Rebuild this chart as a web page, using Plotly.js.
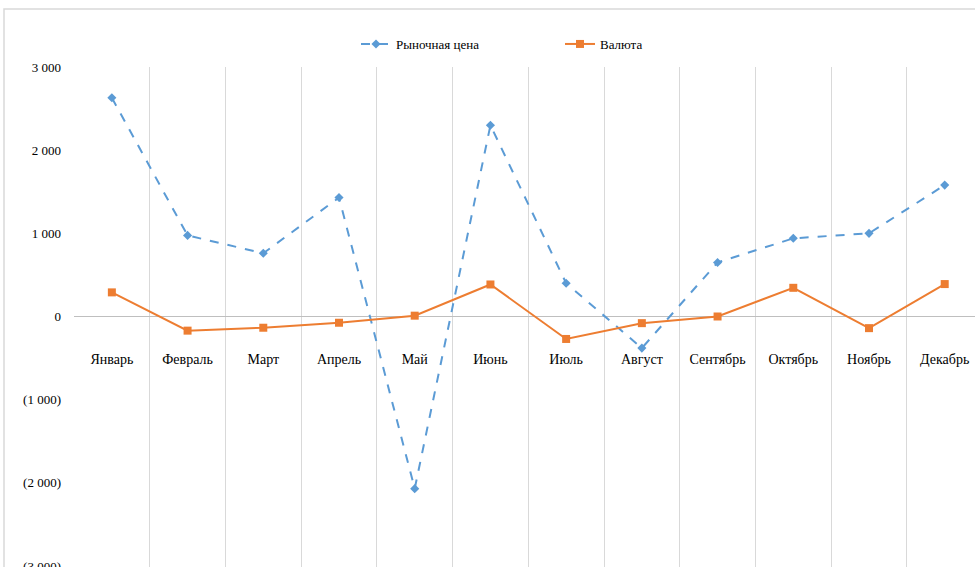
<!DOCTYPE html>
<html><head><meta charset="utf-8">
<script src="https://cdn.plot.ly/plotly-3.0.1.min.js"></script>
<style>html,body{margin:0;padding:0;background:#fff}#chart{width:975px;height:567px}</style>
</head><body><div id="chart"></div>
<script>
const months = ["Январь","Февраль","Март","Апрель","Май","Июнь","Июль","Август","Сентябрь","Октябрь","Ноябрь","Декабрь"];
const marketPrice = [2630, 975, 760, 1430, -2070, 2300, 400, -380, 650, 940, 1000, 1580];
const currency = [290, -170, -135, -75, 10, 385, -270, -80, 0, 345, -140, 390];
const yTickVals = [3000, 2000, 1000, 0, -1000, -2000, -3000];
const yTickText = ["3 000", "2 000", "1 000", "0", "(1 000)", "(2 000)", "(3 000)"];

const font = "Liberation Serif";
const traces = [
  {x: months, y: marketPrice, name: "Рыночная цена", type: "scatter", mode: "lines+markers",
   line: {color: "#5b9bd5", width: 2, dash: "dash"},
   marker: {symbol: "diamond", size: 7, color: "#5b9bd5"}, legend: "legend"},
  {x: months, y: currency, name: "Валюта", type: "scatter", mode: "lines+markers",
   line: {color: "#ed7d31", width: 2},
   marker: {symbol: "square", size: 8, color: "#ed7d31"}, legend: "legend2"}
];
const plotL = 74, plotW = 901, plotT = 67, plotH = 500;
const px = v => (v - plotL) / plotW;
const py = v => 1 - (v - plotT) / plotH;
const legFont = {family: font, size: 13, color: "#000"};
const layout = {
  width: 975, height: 567,
  margin: {l: plotL, r: 0, t: plotT, b: 0},
  paper_bgcolor: "#fff", plot_bgcolor: "#fff",
  font: {family: font, size: 12, color: "#000"},
  showlegend: true,
  legend: {orientation: "h", x: px(356), xanchor: "left", y: py(44), yanchor: "middle",
           font: legFont, bgcolor: "rgba(0,0,0,0)"},
  legend2: {orientation: "h", x: px(560), xanchor: "left", y: py(44), yanchor: "middle",
           font: legFont, bgcolor: "rgba(0,0,0,0)"},
  xaxis: {type: "category", range: [-0.5, 11.4], anchor: "free", position: 0.5,
          showgrid: true, gridcolor: "#d9d9d9", gridwidth: 1, tickson: "boundaries",
          ticks: "", showline: false, zeroline: false,
          ticklabelstandoff: 32, tickfont: {family: font, size: 14, color: "#000"}},
  yaxis: {range: [-3012, 3000], tickvals: yTickVals, ticktext: yTickText,
          ticklabeloverflow: "allow",
          showgrid: false, zeroline: true, zerolinecolor: "#bfbfbf", zerolinewidth: 1,
          showline: false, ticks: "", ticklabelstandoff: 12,
          tickfont: {family: font, size: 13, color: "#000"}},
  shapes: [
    {type: "rect", xref: "paper", yref: "paper", x0: px(4), x1: 1.05, y0: -0.1, y1: py(9),
     line: {color: "#d9d9d9", width: 1.5}, fillcolor: "rgba(0,0,0,0)", layer: "below"}
  ]
};
Plotly.newPlot("chart", traces, layout, {displayModeBar: false, staticPlot: true});
</script></body></html>
